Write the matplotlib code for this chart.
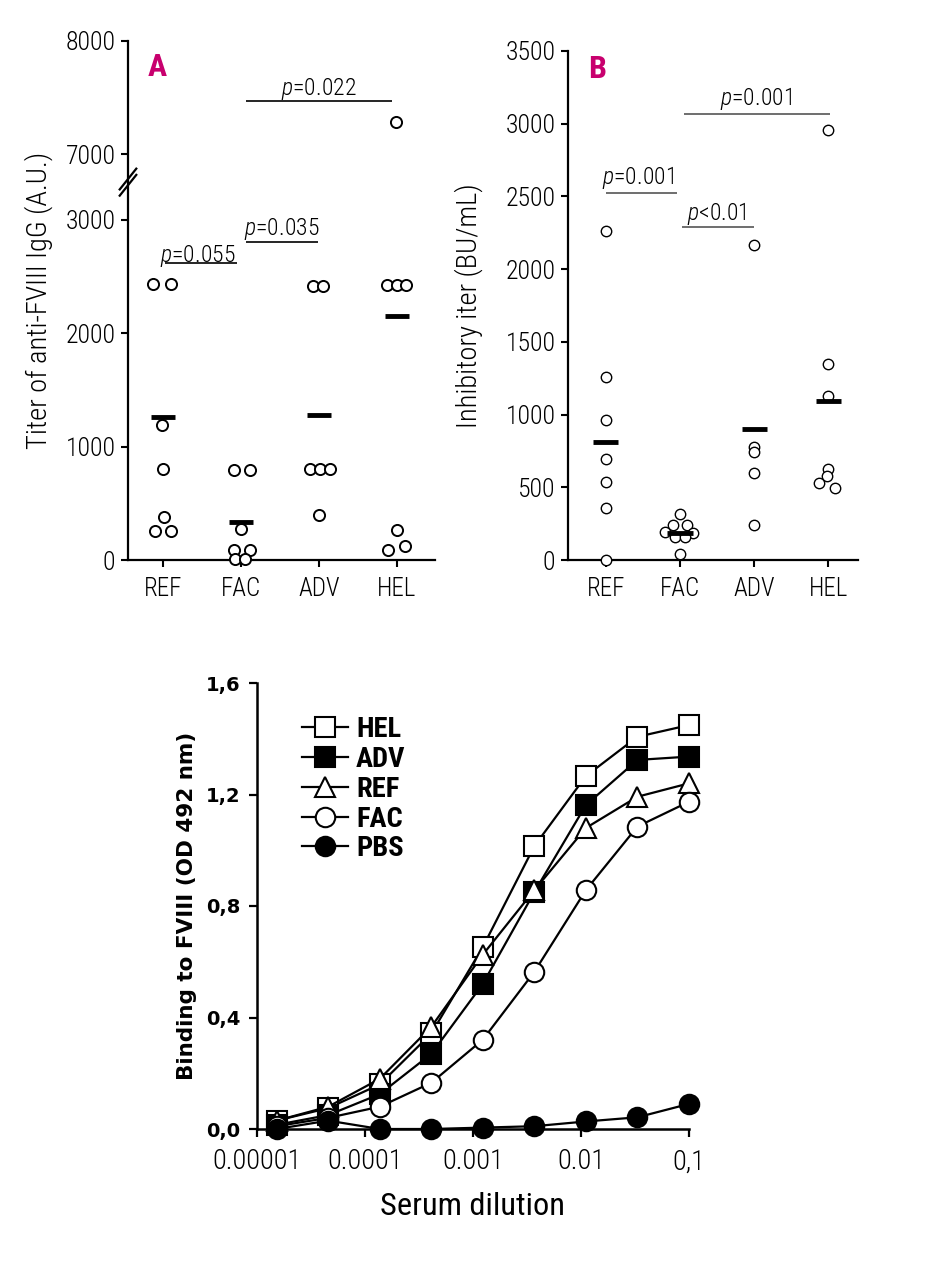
import numpy as np
import matplotlib
matplotlib.use('Agg')
import matplotlib.pyplot as plt
from matplotlib import font_manager
from matplotlib.ticker import NullLocator

# pick the narrowest sans family that is installed
fonts = font_manager.fontManager.ttflist
names = {f.name for f in fonts}
NARROW, STRETCH, K = 'DejaVu Sans', 'normal', 0.86
if 'Roboto Condensed' in names:
    NARROW, K = 'Roboto Condensed', 1.0
elif 'Liberation Sans Narrow' in names:
    NARROW, K = 'Liberation Sans Narrow', 1.07
elif any(f.name == 'DejaVu Sans' and f.stretch == 'condensed' for f in fonts):
    NARROW, STRETCH, K = 'DejaVu Sans', 'condensed', 0.92
elif 'Roboto' in names:
    NARROW, K = 'Roboto', 0.92
# the original uses a thin condensed face
LIGHT = 'light' if any(f.name == NARROW and f.weight in (300, 'light')
                       for f in fonts) else 'normal'

plt.rcParams['font.family'] = [NARROW, 'DejaVu Sans']
plt.rcParams['font.stretch'] = STRETCH
plt.rcParams['font.weight'] = LIGHT
plt.rcParams['mathtext.fontset'] = 'custom'
plt.rcParams['mathtext.rm'] = NARROW + ':' + LIGHT
plt.rcParams['mathtext.it'] = NARROW + ':italic:' + LIGHT

groups = ['REF', 'FAC', 'ADV', 'HEL']

# panel A - titer of anti-FVIII IgG (A.U.)
titer_ref = [2430, 2430, 1192, 800, 382, 254, 254]
titer_fac = [795, 795, 271, 87, 87, 10, 10]
titer_adv = [2416, 2416, 803, 803, 803, 393]
titer_hel = [7285, 2420, 2420, 2420, 261, 87, 122]
titer_mean = [1262, 334, 1279, 2148]
titer_jitter = [[-0.13, 0.107, -0.01, 0, 0.01, -0.107, 0.1],
                [-0.094, 0.112, 0, -0.094, 0.12, -0.073, 0.047],
                [-0.077, 0.05, -0.12, 0.017, 0.146, 0],
                [-0.013, -0.13, 0, 0.12, 0, -0.116, 0.099]]
titer_pvals = ['$p$=0.055', '$p$=0.035', '$p$=0.022']

# panel B - inhibitory titer (BU/mL)
inhib_ref = [2265, 1256, 963, 694, 537, 361, 0]
inhib_fac = [316, 241, 241, 195, 183, 160, 160, 41]
inhib_adv = [2165, 776, 741, 597, 239]
inhib_hel = [2957, 1351, 1128, 624, 578, 532, 496]
inhib_mean = [808, 188, 903, 1093]
inhib_jitter = [[0, 0, 0, 0, 0, 0, 0],
                [0, -0.09, 0.09, -0.2, 0.18, -0.07, 0.07, 0],
                [0, 0, 0, 0, 0],
                [0, 0, 0, 0, -0.02, -0.12, 0.09]]
inhib_pvals = ['$p$=0.001', '$p$<0.01', '$p$=0.001']

# panel C - binding to FVIII vs serum dilution
dilution = [1.52e-5, 4.57e-5, 1.37e-4, 4.12e-4, 1.23e-3, 3.70e-3, 1.11e-2, 3.33e-2, 0.1]
od_hel = [0.03, 0.075, 0.16, 0.343, 0.652, 1.015, 1.266, 1.407, 1.449]
od_adv = [0.015, 0.05, 0.125, 0.27, 0.52, 0.85, 1.162, 1.324, 1.336]
od_ref = [0.03, 0.08, 0.18, 0.367, 0.625, 0.857, 1.08, 1.192, 1.24]
od_fac = [0.01, 0.04, 0.08, 0.166, 0.32, 0.564, 0.857, 1.085, 1.174]
od_pbs = [0.0, 0.03, 0.0, 0.0, 0.005, 0.01, 0.027, 0.042, 0.09]
dil_ticks = [1e-5, 1e-4, 1e-3, 1e-2, 0.1]
dil_labels = ['0.00001', '0.0001', '0.001', '0.01', '0,1']
od_ticks = [0, 0.4, 0.8, 1.2, 1.6]
od_labels = ['0,0', '0,4', '0,8', '1,2', '1,6']

MAGENTA = '#c8006e'

fig = plt.figure(figsize=(9.28, 12.8), dpi=100)
W, H = 928.0, 1280.0
axA = fig.add_axes([128 / W, 1 - 560 / H, 307 / W, 519 / H])
axB = fig.add_axes([568 / W, 1 - 560 / H, 290 / W, 509 / H])
axC = fig.add_axes([257 / W, 1 - 1129 / H, 432 / W, 446 / H])


def fwd(y):
    y = np.asarray(y, float)
    return np.where(y < 3330, y, np.where(y < 6756, 3330.0, y - 3426.0))


def inv(t):
    t = np.asarray(t, float)
    return np.where(t < 3330, t, t + 3426.0)


def dot_panel(ax, values, jitter, means, half, ms, mew, barw):
    for i, vals in enumerate(values):
        ax.plot(i + np.array(jitter[i]), vals, 'o', mfc='white', mec='black',
                ms=ms, mew=mew, clip_on=False, zorder=3)
    x = np.arange(len(means))
    ax.hlines(means, x - half, x + half, colors='black', lw=barw, zorder=4)
    ax.set_xticks(x)
    ax.set_xticklabels(groups)
    for s in ['top', 'right']:
        ax.spines[s].set_visible(False)
    for s in ['left', 'bottom']:
        ax.spines[s].set_linewidth(1.6)
    ax.tick_params(axis='both', direction='out', length=5, width=1.5)
    ax.tick_params(axis='y', labelsize=18.5 * K, pad=4)
    ax.tick_params(axis='x', labelsize=18 * K, pad=7)


# ---- panel A
axA.set_yscale('function', functions=(fwd, inv))
dot_panel(axA, [titer_ref, titer_fac, titer_adv, titer_hel], titer_jitter,
          titer_mean, 0.15, 8, 1.4, 3.5)
axA.set_xlim(-0.45, 3.49)
axA.set_ylim(0, 8000)
axA.set_yticks([0, 1000, 2000, 3000, 7000, 8000])
axA.set_yticklabels(['0', '1000', '2000', '3000', '7000', '8000'])
axA.set_ylabel('Titer of anti-FVIII IgG (A.U.)', fontsize=20.5 * K,
               fontweight=LIGHT)
axA.yaxis.set_label_coords(-0.244, 0.5)
a_lines = [(0.03, 0.95, 2617), (1.06, 1.99, 2801), (1.06, 2.94, 7469)]
a_text = [(0.44, 2628), (1.52, 2861), (2.0, 7528)]
for (x0, x1, y), (tx, ty), lab in zip(a_lines, a_text, titer_pvals):
    axA.hlines(y, x0, x1, colors='black', lw=1.2)
    axA.text(tx, ty, lab, ha='center', va='baseline', fontsize=17 * K)
axA.text(-0.08, 7770, 'A', color=MAGENTA, fontsize=23 * K, fontweight='bold',
         ha='center', va='center')
# axis break marks
yb = 3330 / 4574.0
for dy in (-0.006, 0.006):
    axA.plot([-0.027, 0.027], [yb + dy - 0.02, yb + dy + 0.02], color='black',
             lw=1.6, transform=axA.transAxes, clip_on=False, zorder=5)

# ---- panel B
dot_panel(axB, [inhib_ref, inhib_fac, inhib_adv, inhib_hel], inhib_jitter,
          inhib_mean, 0.17, 7.5, 1.0, 3.5)
axB.set_xlim(-0.51, 3.4)
axB.set_ylim(0, 3500)
axB.set_yticks(np.arange(0, 3501, 500))
axB.set_ylabel('Inhibitory iter (BU/mL)', fontsize=20.5 * K, fontweight=LIGHT)
axB.yaxis.set_label_coords(-0.293, 0.5)
b_lines = [(0.0, 0.96, 2526), (1.03, 2.0, 2292), (1.06, 3.02, 3068)]
b_text = [(0.43, 2585), (1.49, 2341), (2.02, 3128)]
for (x0, x1, y), (tx, ty), lab in zip(b_lines, b_text, inhib_pvals):
    axB.hlines(y, x0, x1, colors='#555555', lw=1.2)
    axB.text(tx, ty, lab, ha='center', va='baseline', fontsize=17 * K)
axB.text(-0.12, 3376, 'B', color=MAGENTA, fontsize=23 * K, fontweight='bold',
         ha='center', va='center')

# ---- panel C
series = [('HEL', od_hel, 's', 'white'), ('ADV', od_adv, 's', 'black'),
          ('REF', od_ref, '^', 'white'), ('FAC', od_fac, 'o', 'white'),
          ('PBS', od_pbs, 'o', 'black')]
for name, vals, mk, fc in series:
    axC.plot(dilution, vals, '-', marker=mk, color='black', mfc=fc, mec='black',
             ms=14, mew=1.5, lw=1.6, clip_on=False, label=name)
axC.set_xscale('log')
axC.set_xlim(1e-5, 0.1)
axC.set_ylim(0, 1.6)
axC.xaxis.set_minor_locator(NullLocator())
axC.set_xticks(dil_ticks)
axC.set_xticklabels(dil_labels)
axC.set_yticks(od_ticks)
axC.set_yticklabels(od_labels, family='DejaVu Sans', fontweight='bold',
                    fontstretch='normal')
for s in ['top', 'right']:
    axC.spines[s].set_visible(False)
for s in ['left', 'bottom']:
    axC.spines[s].set_linewidth(1.8)
axC.tick_params(axis='both', direction='out', length=6, width=1.6)
axC.tick_params(axis='y', labelsize=14, pad=6)
axC.tick_params(axis='x', labelsize=20.5 * K, pad=8)
axC.set_ylabel('Binding to FVIII (OD 492 nm)', family='DejaVu Sans',
               fontweight='bold', fontstretch='normal', fontsize=15.5)
axC.yaxis.set_label_coords(-0.139, 0.5)
axC.set_xlabel('Serum dilution', fontsize=23.3 * K, labelpad=12)
axC.legend(loc='upper left', bbox_to_anchor=(302 / W, 1 - 716 / H),
           bbox_transform=fig.transFigure, frameon=False, borderpad=0,
           borderaxespad=0, handlelength=1.6, handletextpad=0.3,
           labelspacing=0.1, prop={'family': NARROW, 'stretch': STRETCH,
                                   'weight': 'bold', 'size': 20.5 * K})

fig.savefig('out.png', dpi=100)
